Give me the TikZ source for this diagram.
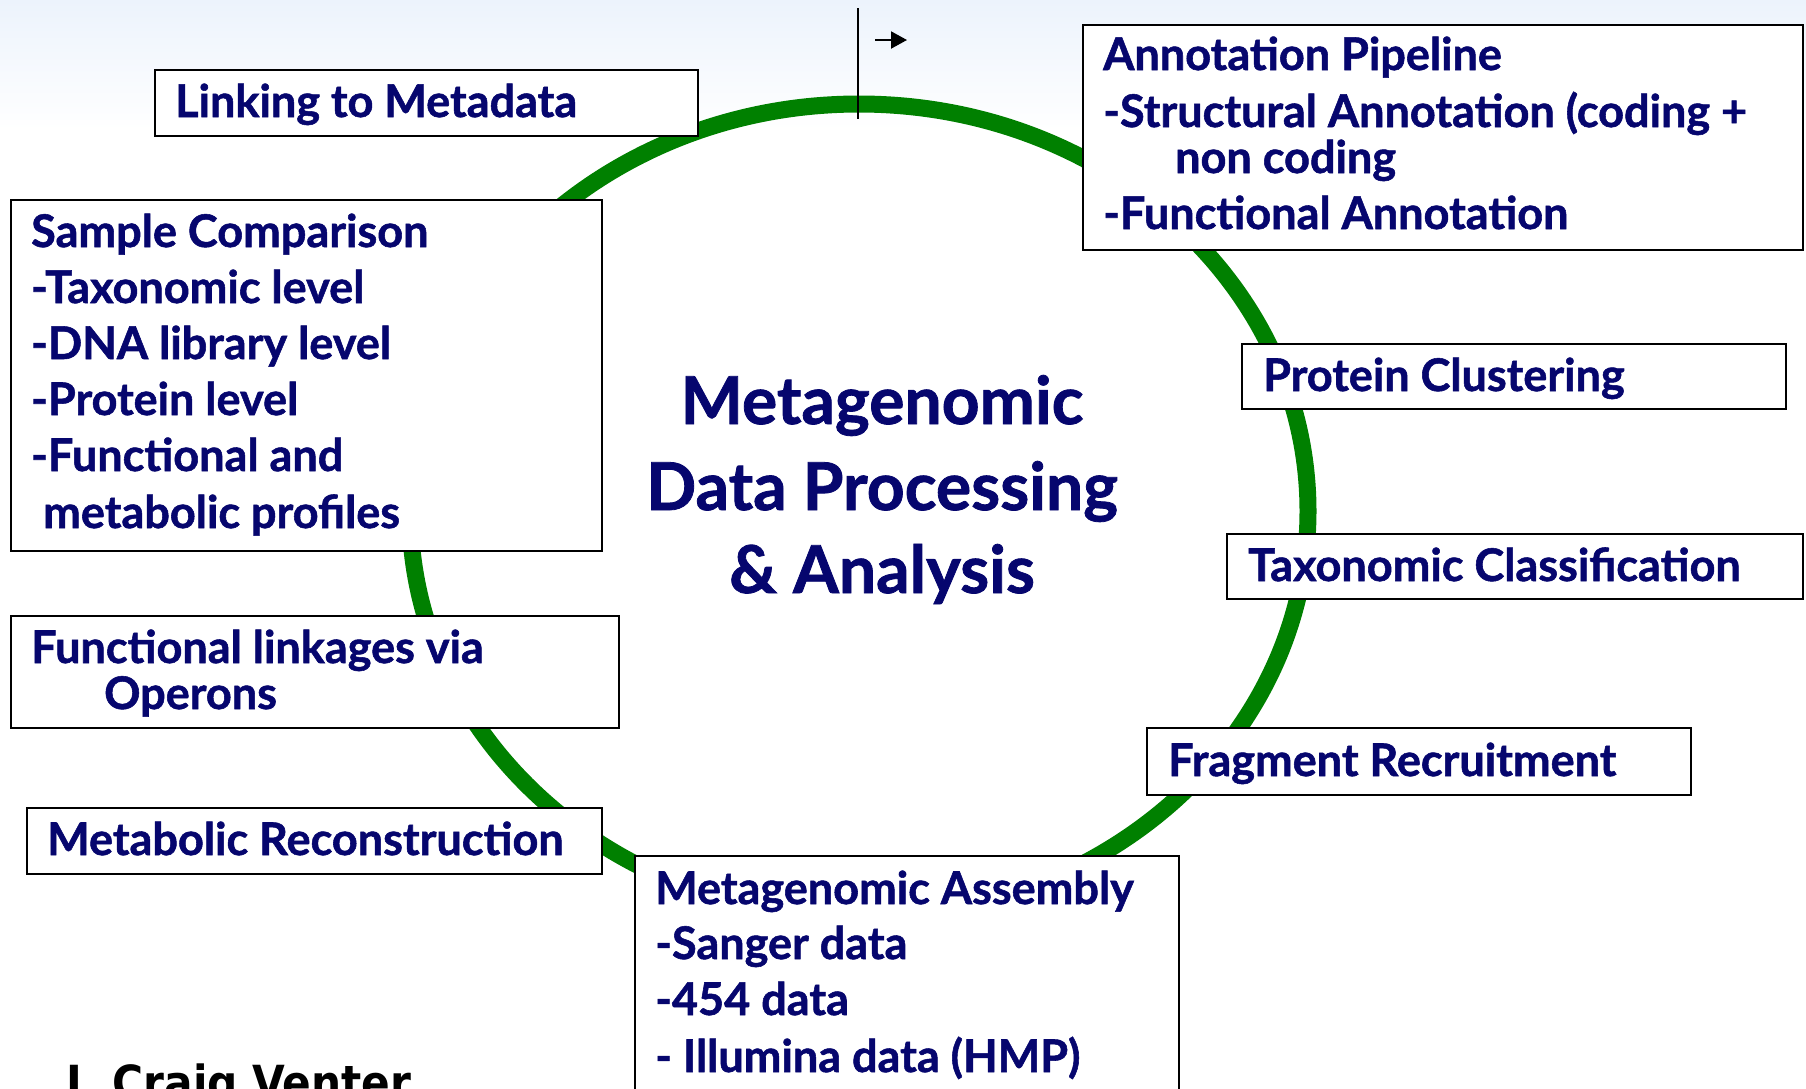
\documentclass[tikz,border=0pt]{standalone}
\usepackage{fontspec}
\setmainfont{Lato}[BoldFeatures={FakeBold=1.2}]
\newfontfamily\venterfont{DejaVu Sans Condensed}
\usetikzlibrary{arrows.meta,fit}
\definecolor{navytxt}{RGB}{6,6,110}
\definecolor{ringgreen}{RGB}{0,128,0}
\definecolor{skytop}{RGB}{236,243,252}
\begin{document}
\begin{tikzpicture}[x=1pt,y=-1pt,
  box/.style={draw=black,line width=2.6pt,fill=white,inner sep=0pt},
  lbl/.style={anchor=base west,inner sep=0pt,text=navytxt,font=\fontsize{45}{52}\selectfont\bfseries},
  ttl/.style={anchor=base,inner sep=0pt,text=navytxt,font=\fontsize{66}{74}\selectfont\bfseries}]
\useasboundingbox (0,0) rectangle (1806,1088);
\clip (0,0) rectangle (1806,1088);
\fill[white] (0,0) rectangle (1806,1088);
\shade[top color=skytop,bottom color=white] (0,0) rectangle (1806,130);
% ring
\draw[ringgreen,line width=17pt] (859,511) ellipse [x radius=449pt,y radius=407pt];
% marker line and arrow
\coordinate (v1) at (858,8);
\coordinate (v2) at (858,119);
\draw[line width=2pt] (v1) -- (v2);
\coordinate (a1) at (875,40);
\coordinate (a2) at (907,40);
\draw[line width=2pt,-{Triangle[length=16pt,width=17pt]}] (a1) -- (a2);
% boxes
\node[box,fit={(155,70) (698,136)}] (link) {};
\node[box,fit={(11,200) (602,551)}] (samp) {};
\node[box,fit={(11,616) (619,728)}] (oper) {};
\node[box,fit={(27,808) (602,874)}] (meta) {};
\node[box,fit={(635,856) (1179,1100)}] (asse) {};
\node[box,fit={(1147,728) (1691,795)}] (frag) {};
\node[box,fit={(1227,534) (1803,599)}] (taxo) {};
\node[box,fit={(1242,344) (1786,409)}] (prot) {};
\node[box,fit={(1083,25) (1803,250)}] (anno) {};
% texts
\node[lbl] (linkt) at (175,117) {Linking to Metadata};
\node[lbl] (sampt1) at (31,247) {Sample Comparison};
\node[lbl] (sampt2) at (31,303) {-Taxonomic level};
\node[lbl] (sampt3) at (31,359) {-DNA library level};
\node[lbl] (sampt4) at (31,415) {-Protein level};
\node[lbl] (sampt5) at (31,471) {-Functional and};
\node[lbl] (sampt6) at (43,528) {metabolic profiles};
\node[lbl] (opert1) at (31,663) {Functional linkages via};
\node[lbl] (opert2) at (104,709) {Operons};
\node[lbl] (metat) at (47,855) {Metabolic Reconstruction};
\node[lbl] (asset1) at (655,904) {Metagenomic Assembly};
\node[lbl] (asset2) at (655,959) {-Sanger data};
\node[lbl] (asset3) at (655,1015) {-454 data};
\node[lbl] (asset4) at (655,1072) {- Illumina data (HMP)};
\node[lbl] (fragt) at (1168,776) {Fragment Recruitment};
\node[lbl] (taxot) at (1248,581) {Taxonomic Classification};
\node[lbl] (prott) at (1263,391) {Protein Clustering};
\node[lbl] (annot1) at (1103,70) {Annotation Pipeline};
\node[lbl] (annot2) at (1103,127) {-Structural Annotation (coding +};
\node[lbl] (annot3) at (1175,173) {non coding};
\node[lbl] (annot4) at (1103,229) {-Functional Annotation};
% title
\node[ttl] (title1) at (882,424) {Metagenomic};
\node[ttl] (title2) at (882,510) {Data Processing};
\node[ttl] (title3) at (882,593) {\& Analysis};
% signature
\node[anchor=base west,inner sep=0pt,text=black,font=\venterfont\fontsize{47}{52}\selectfont\bfseries] (venter) at (66,1099) {J. Craig Venter};
\end{tikzpicture}
\end{document}
